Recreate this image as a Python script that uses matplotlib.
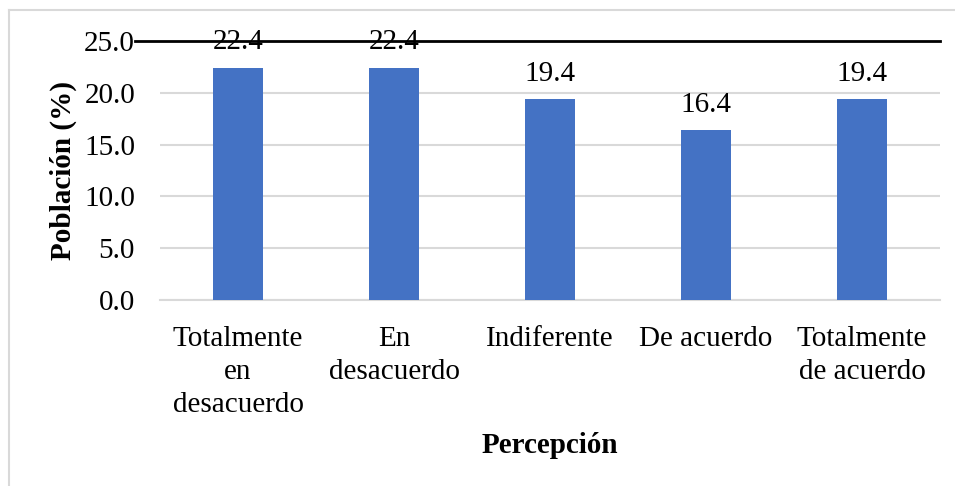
import matplotlib.pyplot as plt
from matplotlib.lines import Line2D

# data
categorias = ['Totalmente\nen\ndesacuerdo', 'En\ndesacuerdo', 'Indiferente', 'De acuerdo', 'Totalmente\nde acuerdo']
poblacion = [22.4, 22.4, 19.4, 16.4, 19.4]
yticks = [0, 5, 10, 15, 20, 25]

plt.rcParams['font.family'] = ['Liberation Serif', 'DejaVu Serif']
fs = 21

fig = plt.figure(figsize=(9.55, 4.86), dpi=100)
ax = fig.add_axes([160 / 955, 1 - 300 / 486, 780 / 955, 259 / 486])

x = range(len(categorias))
ax.bar(x, poblacion, width=0.32, color='#4472C4', zorder=3)
for i, v in zip(x, poblacion):
    ax.annotate(f'{v:.1f}', (i, v), xytext=(0, 9), textcoords='offset points',
                ha='center', va='bottom', fontsize=fs)

ax.set_xlim(-0.5, len(categorias) - 0.5)
ax.set_ylim(0, 25)
ax.set_yticks(yticks)
ax.set_yticklabels([f'{t:.1f}' for t in yticks], fontsize=fs)
ax.set_xticks(list(x))
ax.set_xticklabels(categorias, fontsize=fs, linespacing=1.35)
ax.tick_params(length=0)
ax.tick_params(axis='y', pad=18)
ax.tick_params(axis='x', pad=19)

for s in ['top', 'right', 'left']:
    ax.spines[s].set_visible(False)
ax.spines['bottom'].set_color('#d9d9d9')
ax.spines['bottom'].set_linewidth(1.5)
ax.yaxis.grid(True, color='#d9d9d9', linewidth=1.5, zorder=0)

# black line at 25
ax.axhline(25, xmin=-0.032, xmax=1, color='black', linewidth=2, clip_on=False, zorder=4)

ax.set_ylabel('Población (%)', fontsize=fs, fontweight='bold', labelpad=5)
ax.set_xlabel('Percepción', fontsize=fs, fontweight='bold', labelpad=10)

# chart border (top and left visible)
fig.add_artist(Line2D([9 / 955, 1], [1 - 10 / 486, 1 - 10 / 486], color='#d9d9d9', linewidth=1.5))
fig.add_artist(Line2D([9 / 955, 9 / 955], [0, 1 - 10 / 486], color='#d9d9d9', linewidth=1.5))

fig.savefig('out.png', dpi=100)
